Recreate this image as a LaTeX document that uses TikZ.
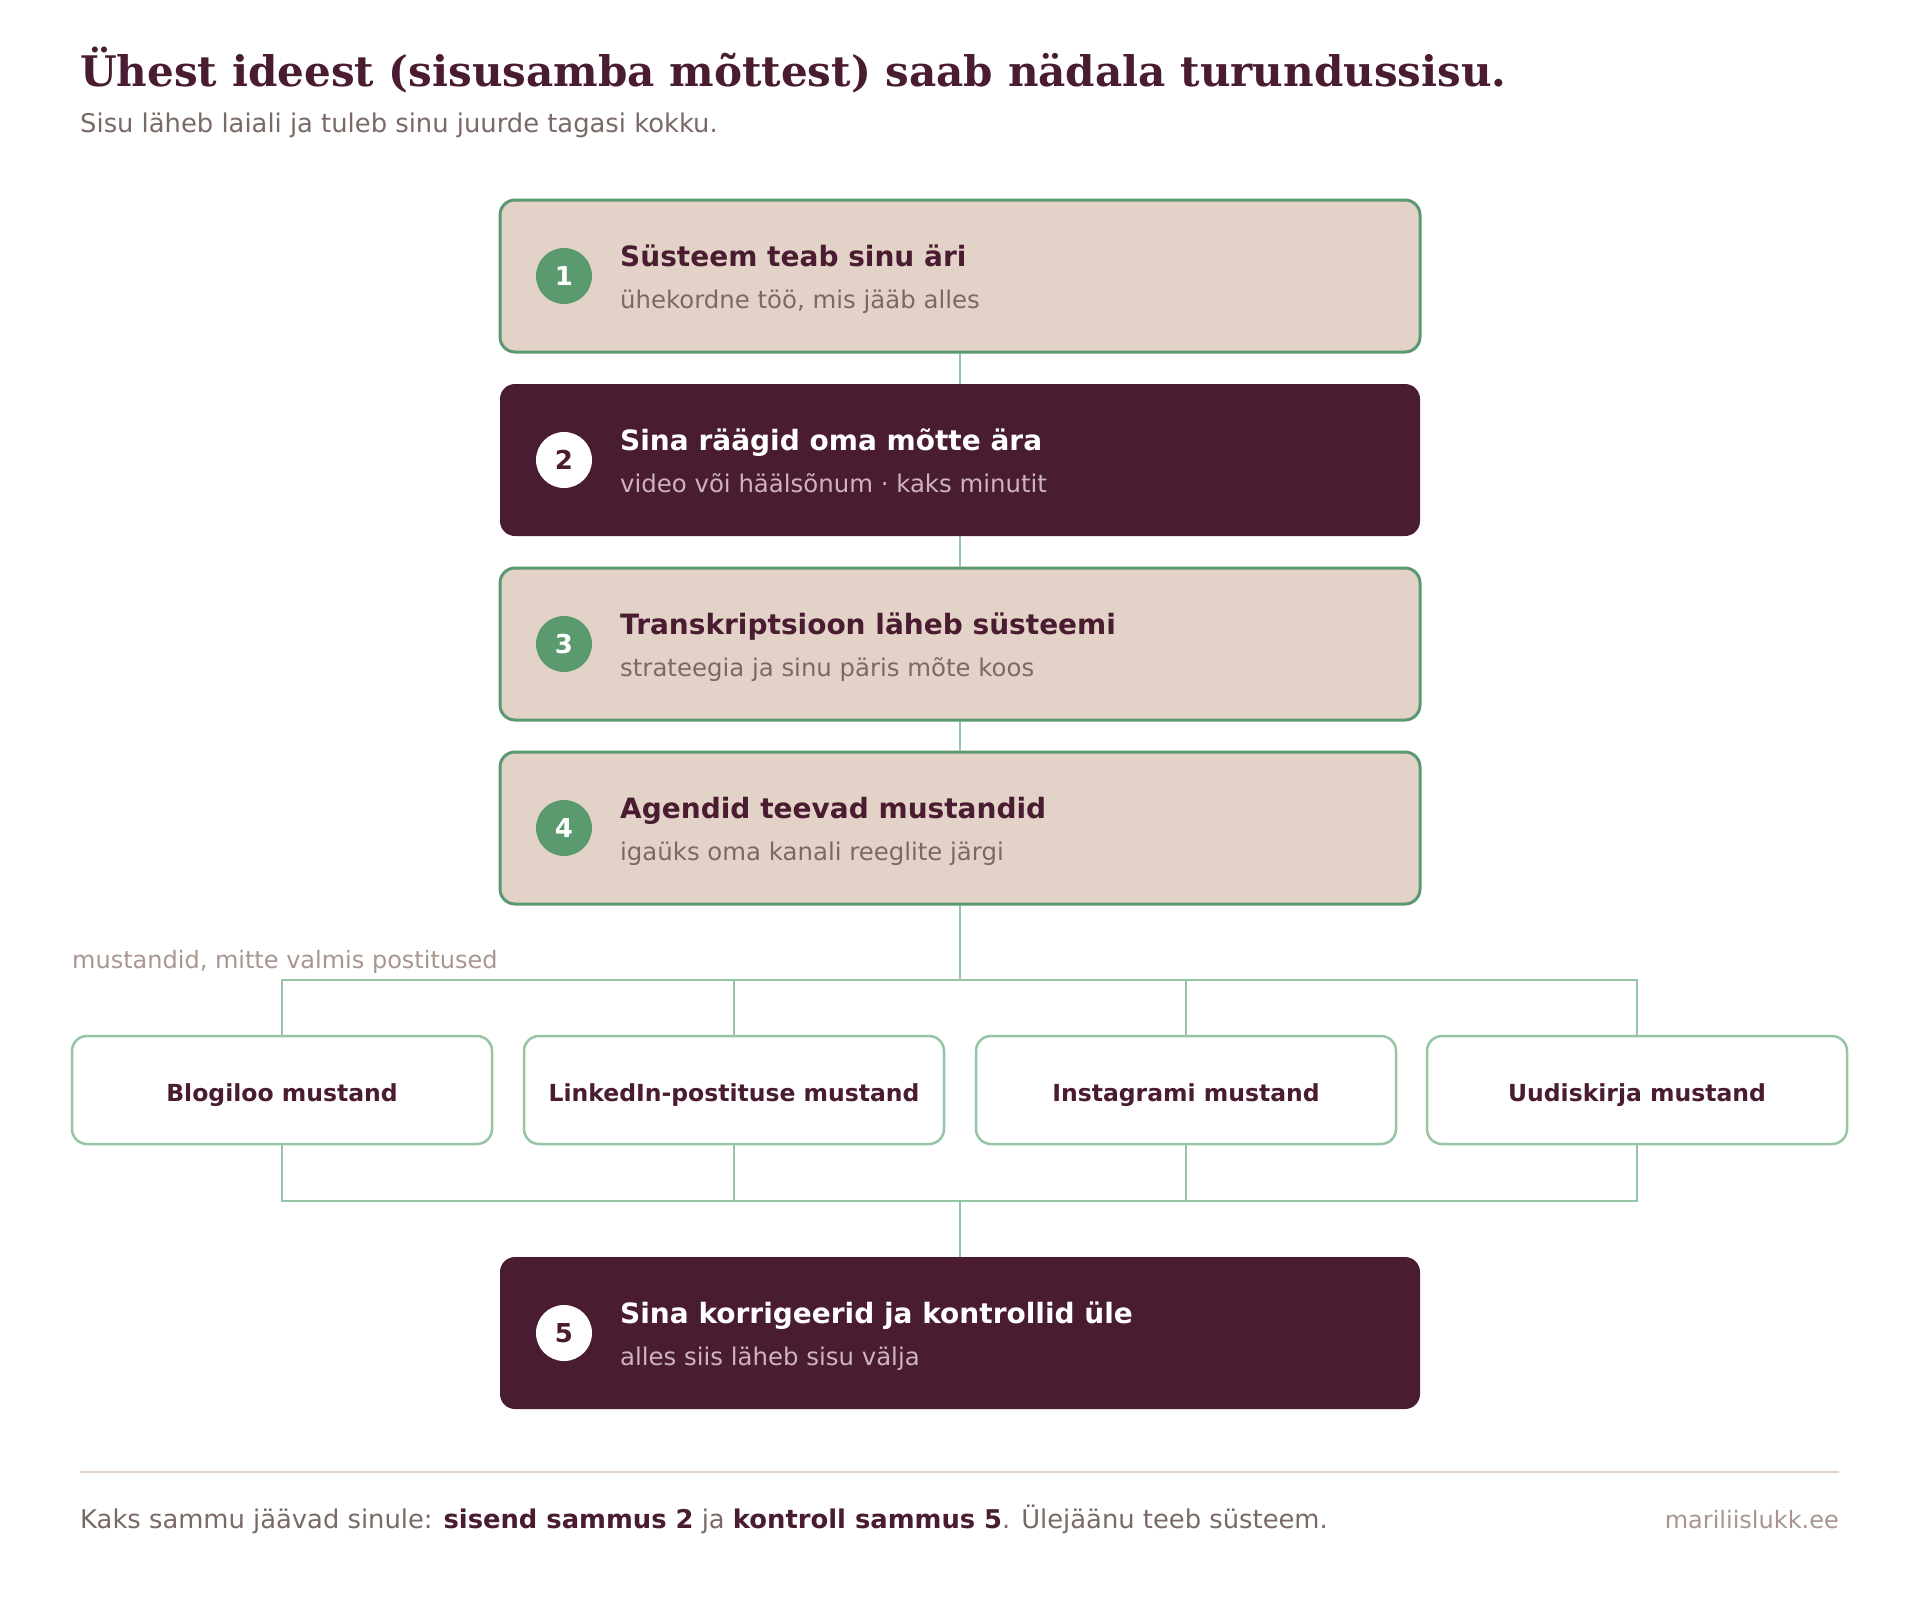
\documentclass[tikz,border=0pt]{standalone}
\usepackage{fontspec}
\setmainfont{DejaVu Sans}
\newfontfamily\titlefont{DejaVu Serif}
\definecolor{stepmaroon}{HTML}{4A1C31}
\definecolor{stepbeige}{HTML}{E3D2C8}
\definecolor{stepgreen}{HTML}{5A9A6E}
\definecolor{linkgreen}{HTML}{96C5A6}
\definecolor{subgray}{HTML}{7A6A66}
\definecolor{notegray}{HTML}{A8968F}
\definecolor{subpink}{HTML}{CDB3BF}
\tikzset{
	lightstep/.style={draw=stepgreen,line width=3pt,fill=stepbeige,rounded corners=15pt,minimum width=920pt,minimum height=152pt},
	darkstep/.style={fill=stepmaroon,rounded corners=15pt,minimum width=920pt,minimum height=152pt},
	greennum/.style={circle,fill=stepgreen,minimum size=56pt,inner sep=0pt,text=white,font=\fontsize{26}{30}\selectfont\bfseries},
	whitenum/.style={circle,fill=white,minimum size=56pt,inner sep=0pt,text=stepmaroon,font=\fontsize{26}{30}\selectfont\bfseries},
	steptitle/.style={anchor=base west,inner sep=0pt,font=\fontsize{28}{34}\selectfont\bfseries},
	stepsub/.style={anchor=base west,inner sep=0pt,font=\fontsize{24.4}{28}\selectfont},
	draftbox/.style={draw=linkgreen,line width=2.5pt,fill=white,rounded corners=15pt,minimum width=420pt,minimum height=108pt,text height=22pt,text depth=0pt,text=stepmaroon,font=\fontsize{23.5}{28}\selectfont\bfseries},
	link/.style={draw=linkgreen,line width=2.5pt}
}
\begin{document}
\begin{tikzpicture}[x=1pt,y=-1pt]
	\useasboundingbox[fill=white](0,0) rectangle (1920,1600);
	
	\node[anchor=base west,inner sep=0pt][text=stepmaroon][font=\titlefont\fontsize{42.1}{50}\selectfont\bfseries] (title) at (80,87) {Ühest ideest (sisusamba mõttest) saab nädala turundussisu.};
	\node[anchor=base west,inner sep=0pt][text=subgray][font=\fontsize{25.8}{30}\selectfont] (subtitle) at (80,133) {Sisu läheb laiali ja tuleb sinu juurde tagasi kokku.};
	
	\node[lightstep] (s1) at (960,276) {};
	\node[darkstep] (s2) at (960,460) {};
	\node[lightstep] (s3) at (960,644) {};
	\node[lightstep] (s4) at (960,828) {};
	\node[darkstep] (s5) at (960,1333) {};
	
	\node[greennum] (n1) at (564,276) {1};
	\node[whitenum] (n2) at (564,460) {2};
	\node[greennum] (n3) at (564,644) {3};
	\node[greennum] (n4) at (564,828) {4};
	\node[whitenum] (n5) at (564,1333) {5};
	
	\node[steptitle][text=stepmaroon] (t1) at (620,266) {Süsteem teab sinu äri};
	\node[stepsub][text=subgray] (u1) at (620,308) {ühekordne töö, mis jääb alles};
	\node[steptitle][text=white] (t2) at (620,450) {Sina räägid oma mõtte ära};
	\node[stepsub][text=subpink] (u2) at (620,492) {video või häälsõnum · kaks minutit};
	\node[steptitle][text=stepmaroon] (t3) at (620,634) {Transkriptsioon läheb süsteemi};
	\node[stepsub][text=subgray] (u3) at (620,676) {strateegia ja sinu päris mõte koos};
	\node[steptitle][text=stepmaroon] (t4) at (620,818) {Agendid teevad mustandid};
	\node[stepsub][text=subgray] (u4) at (620,860) {igaüks oma kanali reeglite järgi};
	\node[steptitle][text=white] (t5) at (620,1323) {Sina korrigeerid ja kontrollid üle};
	\node[stepsub][text=subpink] (u5) at (620,1365) {alles siis läheb sisu välja};
	
	\node[anchor=base west,inner sep=0pt][text=notegray][font=\fontsize{24}{28}\selectfont] (note) at (72,968) {mustandid, mitte valmis postitused};
	
	\node[draftbox] (d1) at (282,1090) {Blogiloo mustand};
	\node[draftbox] (d2) at (734,1090) {LinkedIn-postituse mustand};
	\node[draftbox] (d3) at (1186,1090) {Instagrami mustand};
	\node[draftbox] (d4) at (1637,1090) {Uudiskirja mustand};
	
	\coordinate (split) at (960,980);
	\coordinate (merge) at (960,1201);
	
	\draw[link](s1.south)--(s2.north);
	\draw[link](s2.south)--(s3.north);
	\draw[link](s3.south)--(s4.north);
	\draw[link](s4.south)--(split);
	\draw[link](d1.north)|-(split)-|(d4.north);
	\draw[link](d2.north)--(d2.north|-split);
	\draw[link](d3.north)--(d3.north|-split);
	\draw[link](d1.south)|-(merge)-|(d4.south);
	\draw[link](d2.south)--(d2.south|-merge);
	\draw[link](d3.south)--(d3.south|-merge);
	\draw[link](merge)--(s5.north);
	
	\draw[line width=2pt][stepbeige](80,1472)--(1839,1472);
	\node[anchor=base west,inner sep=0pt][text=subgray][font=\fontsize{25.8}{30}\selectfont] (footer) at (80,1528) {Kaks sammu jäävad sinule: \textcolor{stepmaroon}{\bfseries sisend sammus 2} ja \textcolor{stepmaroon}{\bfseries kontroll sammus 5}. Ülejäänu teeb süsteem.};
	\node[anchor=base east,inner sep=0pt][text=notegray][font=\fontsize{24}{28}\selectfont] (site) at (1839,1528) {mariliislukk.ee};
\end{tikzpicture}
\end{document}
